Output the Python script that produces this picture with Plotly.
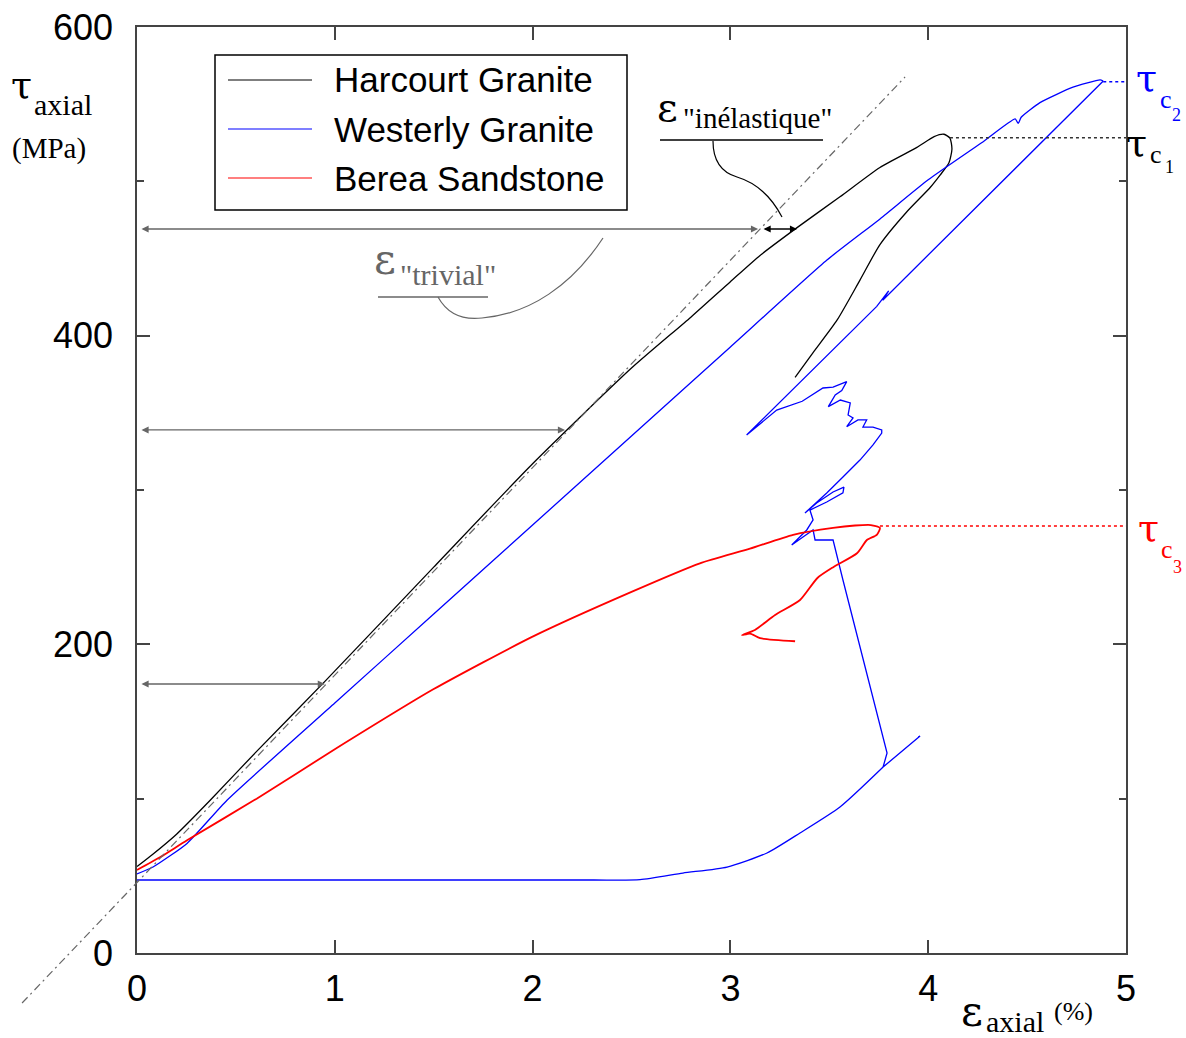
import plotly.graph_objects as go

# ---------------- data (strain %, axial stress MPa) ----------------
harcourt_x = [0, 0.08, 0.2, 0.37, 0.6, 0.95, 1.5, 2.0, 2.5, 2.8, 3.0, 3.15, 3.337, 3.554,
              3.756, 3.943, 4.03, 4.08, 4.11, 4.12, 4.105, 4.06, 4.01, 3.89, 3.756, 3.655,
              3.539, 3.418, 3.327]
harcourt_y = [56, 64, 77, 99, 130, 176, 250, 317, 379, 412, 435, 452, 470, 490,
              509, 522, 529, 530.5, 528, 521, 512, 504, 496, 480, 459, 436,
              410, 389, 373]

westerly_base_x = [0, 2.3, 2.543, 2.76, 2.983, 3.185, 3.352, 3.554, 3.772]
westerly_base_y = [47.3, 47.3, 47.5, 51.8, 55.7, 64.8, 77.8, 94.6, 120.5]

westerly_load_x = [0, 0.081, 0.253, 0.455, 1.0, 1.5, 2.0, 2.5, 3.0, 3.488, 3.75, 4.0, 4.27,
                   4.44, 4.455, 4.47, 4.565, 4.732, 4.869, 4.885]
westerly_load_y = [51.2, 55.7, 71, 99, 162, 219.6, 277.3, 335, 392.7, 449, 475, 501, 525,
                   540.5, 537.5, 541.5, 551, 561, 565.7, 565]

westerly_slip_x = [4.885, 3.83, 3.77, 3.80, 3.74, 3.082, 3.234, 3.363, 3.436, 3.468, 3.519,
                   3.588, 3.563, 3.530, 3.495, 3.556, 3.606, 3.595, 3.620, 3.588, 3.645,
                   3.689, 3.670, 3.721, 3.765, 3.765, 3.721, 3.655, 3.569, 3.487, 3.377,
                   3.436, 3.519, 3.574, 3.569, 3.487, 3.402, 3.418, 3.386, 3.310, 3.367,
                   3.418, 3.428, 3.519, 3.569, 3.792, 3.772, 3.959, 3.80, 3.95]
westerly_slip_y = [565, 430, 423, 429, 419, 335.6, 351.8, 357.5, 363.7, 366.1, 366.7,
                   370.2, 364.5, 361.6, 354.0, 358.3, 356.4, 348.6, 346.7, 341.0, 345.4,
                   345.4, 340.8, 340.8, 338.9, 336.9, 329.2, 319.4, 308.4, 298.1, 285.1,
                   291.6, 298.7, 301.9, 298.1, 292.2, 287.0, 280.6, 274.1, 264.4, 269.5,
                   274.1, 267.6, 267.6, 241.7, 129.6, 120.5, 140.6, 124, 140]

berea_x = [0, 0.116, 0.253, 0.605, 1.0, 1.5, 2.0, 2.5, 2.846, 3.099, 3.317, 3.519, 3.63,
           3.71, 3.756, 3.74, 3.69, 3.64, 3.52, 3.44, 3.352, 3.226, 3.124, 3.059, 3.10,
           3.15, 3.327]
berea_y = [53.8, 62, 73, 100, 132, 171, 205, 234, 252.5, 262, 271, 275.5, 277,
           277.3, 275.4, 271, 267.6, 259, 250, 243, 228.7, 219, 209.3, 206, 207,
           204, 202]

# elastic reference line (dash-dot): endpoints in data units
elastic_x = [-0.581, 3.883]
elastic_y = [-32.4, 567.6]

# critical stresses
tau_c1, tau_c1_x = 528.3, 4.11
tau_c2, tau_c2_x = 564.5, 4.885
tau_c3, tau_c3_x = 276.6, 3.756

# strain arrows: (stress level, end strain)
arrow_levels = [469.1, 338.9, 174.3]
arrow_ends = [3.14, 2.164, 0.95]
inel_start, inel_end = 3.16, 3.337

x_ticks = [0, 1, 2, 3, 4, 5]
y_ticks = [0, 200, 400, 600]
series_names = ["Harcourt Granite", "Westerly Granite", "Berea Sandstone"]
series_colors = ["#000000", "#0000ff", "#ff0000"]

# ---------------- layout helpers ----------------
W, H = 1186, 1038
L, R, T, B = 137, 60, 27, 85
PW, PH = W - L - R, H - T - B
XMAX, YMAX = 5, 600


def px_x(px):
    return (px - L) / PW


def px_y(py):
    return (H - B - py) / PH


SERIF = "Liberation Serif"
GREEK = "DejaVu Serif"
SANS = "Liberation Sans"
ASC = {SERIF: 0.891, GREEK: 0.928, SANS: 0.905}


def txt(s, left, baseline, size, color="black", family=SERIF):
    return dict(text=s, x=px_x(left), y=px_y(baseline - ASC[family] * size), xref="paper",
                yref="paper", xanchor="left", yanchor="top", showarrow=False, borderpad=0,
                font=dict(family=family, size=size, color=color))


fig = go.Figure()

fig.add_trace(go.Scatter(x=harcourt_x, y=harcourt_y, mode="lines", name=series_names[0],
                         line=dict(color=series_colors[0], width=1.3, shape="spline",
                                   smoothing=0.6)))
fig.add_trace(go.Scatter(x=westerly_base_x, y=westerly_base_y, mode="lines",
                         name=series_names[1],
                         line=dict(color=series_colors[1], width=1.3, shape="spline",
                                   smoothing=0.6)))
fig.add_trace(go.Scatter(x=westerly_load_x, y=westerly_load_y, mode="lines",
                         name=series_names[1],
                         line=dict(color=series_colors[1], width=1.3, shape="spline",
                                   smoothing=0.5)))
fig.add_trace(go.Scatter(x=westerly_slip_x, y=westerly_slip_y, mode="lines",
                         name=series_names[1], line=dict(color=series_colors[1], width=1.3)))
fig.add_trace(go.Scatter(x=berea_x, y=berea_y, mode="lines", name=series_names[2],
                         line=dict(color=series_colors[2], width=1.8, shape="spline",
                                   smoothing=0.6)))

shapes = []
# elastic dash-dot line (paper coords so it may leave the frame)
shapes.append(dict(type="line", xref="paper", yref="paper",
                   x0=elastic_x[0] / XMAX, y0=elastic_y[0] / YMAX,
                   x1=elastic_x[1] / XMAX, y1=elastic_y[1] / YMAX,
                   line=dict(color="#666666", width=1.2, dash="8px,4px,2px,4px")))
# dotted critical stress lines
for yv, xv, c in [(tau_c1, tau_c1_x, "#333333"), (tau_c2, tau_c2_x, "#0000ff"),
                  (tau_c3, tau_c3_x, "#ff0000")]:
    shapes.append(dict(type="line", xref="x", yref="y", x0=xv, x1=XMAX, y0=yv, y1=yv,
                       line=dict(color=c, width=1.5, dash="dot")))

# legend box
shapes.append(dict(type="rect", xref="paper", yref="paper", x0=px_x(215), x1=px_x(627),
                   y0=px_y(210), y1=px_y(55), line=dict(color="black", width=1.5),
                   fillcolor="white", layer="below"))
for yy, c in zip([80, 129, 178], series_colors):
    shapes.append(dict(type="line", xref="paper", yref="paper", x0=px_x(228), x1=px_x(312),
                       y0=px_y(yy), y1=px_y(yy), line=dict(color=c, width=1.2)))

# underlines and leader curves
shapes.append(dict(type="line", xref="paper", yref="paper", x0=px_x(378), x1=px_x(488),
                   y0=px_y(297), y1=px_y(297), line=dict(color="#666666", width=1.3)))
shapes.append(dict(type="line", xref="paper", yref="paper", x0=px_x(660), x1=px_x(823),
                   y0=px_y(140), y1=px_y(140), line=dict(color="black", width=1.3)))


def path(pts):
    s = "M %f,%f" % (px_x(pts[0][0]), px_y(pts[0][1]))
    rest = pts[1:]
    for i in range(0, len(rest), 3):
        a, b, c = rest[i], rest[i + 1], rest[i + 2]
        s += " C %f,%f %f,%f %f,%f" % (px_x(a[0]), px_y(a[1]), px_x(b[0]), px_y(b[1]),
                                       px_x(c[0]), px_y(c[1]))
    return s


shapes.append(dict(type="path", xref="paper", yref="paper",
                   path=path([(438, 297), (448, 315), (465, 320), (482, 318),
                              (530, 314), (572, 285), (603, 238)]),
                   line=dict(color="#666666", width=1.2)))
shapes.append(dict(type="path", xref="paper", yref="paper",
                   path=path([(713, 141), (713, 160), (720, 172), (737, 177),
                              (757, 183), (772, 198), (782, 217)]),
                   line=dict(color="black", width=1.2)))

annotations = []
# strain arrows
for yv, xe in zip(arrow_levels, arrow_ends):
    annotations.append(dict(x=xe, y=yv, ax=0.015, ay=yv, xref="x", yref="y", axref="x",
                            ayref="y", text="", showarrow=True, arrowhead=2, startarrowhead=2,
                            arrowside="end+start", arrowsize=1.1, arrowwidth=1.3,
                            arrowcolor="#666666", standoff=0, startstandoff=0))
annotations.append(dict(x=inel_end, y=arrow_levels[0], ax=inel_start, ay=arrow_levels[0],
                        xref="x", yref="y", axref="x", ayref="y", text="", showarrow=True,
                        arrowhead=2, startarrowhead=2, arrowside="end+start", arrowsize=1.1,
                        arrowwidth=1.3, arrowcolor="black", standoff=0, startstandoff=0))

# legend text
for yy, name in zip([80, 129, 178], series_names):
    annotations.append(dict(text=name, x=px_x(332), y=px_y(yy), xref="paper", yref="paper",
                            xanchor="left", yanchor="middle", showarrow=False,
                            font=dict(family=SANS, size=35, color="black")))

# axis titles
annotations += [txt("τ", 10, 97, 38, family=GREEK), txt("axial", 33, 114, 30),
                txt("(MPa)", 11, 157, 29),
                txt("ε", 960, 1025, 42, family=GREEK), txt("axial", 985, 1031, 30),
                txt("(%)", 1053, 1019, 26)]
# strain labels
annotations += [txt("ε", 373, 273, 42, "#666666", GREEK),
                txt('"trivial"', 399, 284, 30, "#666666"),
                txt("ε", 656, 120, 40, family=GREEK), txt('"inélastique"', 682, 127, 29)]
# critical stress labels
annotations += [txt("τ", 1135, 90, 38, "#0000ff", GREEK), txt("c", 1159, 107, 26, "#0000ff"),
                txt("2", 1171, 120, 18, "#0000ff"),
                txt("τ", 1125, 155, 38, family=GREEK), txt("c", 1149, 162, 26),
                txt("1", 1164, 172, 18),
                txt("τ", 1137, 540, 38, "#ff0000", GREEK), txt("c", 1160, 557, 26, "#ff0000"),
                txt("3", 1172, 572, 18, "#ff0000")]

fig.update_layout(
    width=W, height=H, margin=dict(l=L, r=R, t=T, b=B, autoexpand=False),
    paper_bgcolor="white", plot_bgcolor="white", showlegend=False,
    shapes=shapes, annotations=annotations,
    xaxis=dict(range=[0, XMAX], tickvals=x_ticks, ticks="inside", ticklen=13, tickwidth=1.5,
               tickcolor="#444444", showline=True, linecolor="#444444", linewidth=1.5,
               mirror="ticks", showgrid=False, zeroline=False, automargin=False,
               tickfont=dict(family=SANS, size=36, color="black"), ticklabelstandoff=3),
    yaxis=dict(range=[0, YMAX], tickvals=y_ticks, ticks="inside", ticklen=13, tickwidth=1.5,
               tickcolor="#444444", showline=True, linecolor="#444444", linewidth=1.5,
               mirror="ticks", showgrid=False, zeroline=False, automargin=False,
               minor=dict(dtick=100, ticks="inside", ticklen=7, tickwidth=1.5,
                          tickcolor="#444444"),
               tickfont=dict(family=SANS, size=36, color="black"), ticklabelstandoff=15),
)

fig.write_html("out.html")
